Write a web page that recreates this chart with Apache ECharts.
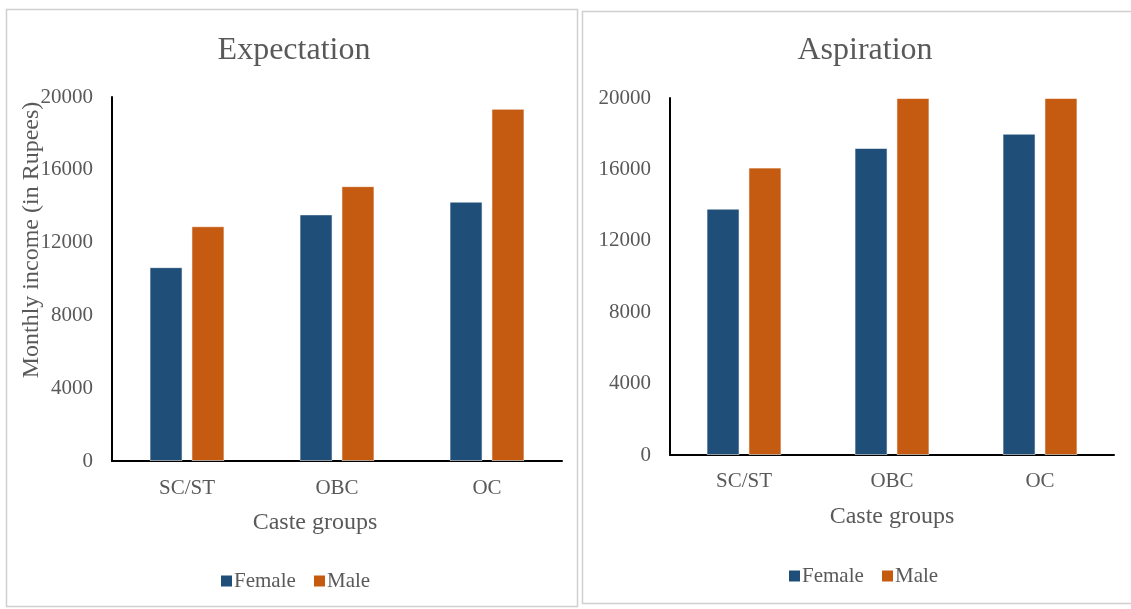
<!DOCTYPE html>
<html>
<head>
<meta charset="utf-8">
<script src="https://cdn.jsdelivr.net/npm/echarts@6/dist/echarts.min.js"></script>
<style>
html,body{margin:0;padding:0;background:#fff;}
#chart{width:1131px;height:609px;}
</style>
</head>
<body>
<div id="chart"></div>
<script>
// ---- data ----
const categories = ['SC/ST', 'OBC', 'OC'];
const expectationFemale = [10650, 13550, 14250];
const expectationMale = [12900, 15100, 19350];
const aspirationFemale = [13800, 17200, 18000];
const aspirationMale = [16100, 20000, 20000];
const yMin = 0, yMax = 20000, yInterval = 4000;
const panelTitles = ['Expectation', 'Aspiration'];
const seriesNames = ['Female', 'Male'];
const yAxisName = 'Monthly income (in Rupees)';
const xAxisName = 'Caste groups';

// ---- styles ----
const FONT = '"Liberation Serif", "Times New Roman", serif';
const GRAY = '#595959';
const FEMALE = '#1F4E79';
const MALE = '#C55A11';
const seriesColors = [FEMALE, MALE];

const chart = echarts.init(document.getElementById('chart'), null, {renderer: 'canvas'});

function xAxisCfg(gridIndex, margin) {
  return {
    type: 'category', gridIndex, data: categories,
    axisLine: {show: true, lineStyle: {color: '#000', width: 2}},
    axisTick: {show: false},
    axisLabel: {color: GRAY, fontFamily: FONT, fontSize: 21, margin}
  };
}
function yAxisCfg(gridIndex) {
  return {
    type: 'value', gridIndex, min: yMin, max: yMax, interval: yInterval,
    axisLine: {show: true, lineStyle: {color: '#000', width: 2}},
    axisTick: {show: false},
    splitLine: {show: false},
    axisLabel: {color: GRAY, fontFamily: FONT, fontSize: 21, margin: 19,
                formatter: v => String(v)}
  };
}
function barSeries(name, color, data, idx) {
  return {
    type: 'bar', name, data, xAxisIndex: idx, yAxisIndex: idx,
    barWidth: 33, barGap: '27%',
    itemStyle: {color, borderColor: 'rgba(255,255,255,0.55)', borderWidth: 1},
    emphasis: {disabled: true}
  };
}
// legend drawn as graphic group (serif font)
function legendGroup(left, cy, maleOffset) {
  const children = [];
  const offsets = [0, maleOffset];
  seriesNames.forEach((name, i) => {
    const x0 = left + offsets[i];
    children.push({type: 'rect', shape: {x: x0, y: cy - 5.5, width: 11, height: 11},
                   style: {fill: seriesColors[i]}});
    children.push({type: 'text', x: x0 + 13, y: cy,
                   style: {text: name, fill: GRAY, font: '21px ' + FONT,
                           textAlign: 'left', textVerticalAlign: 'middle'}});
  });
  return {type: 'group', silent: true, children};
}

const option = {
  animation: false,
  backgroundColor: '#fff',
  textStyle: {fontFamily: FONT},
  title: [
    {text: panelTitles[0], left: 289, top: 30, textAlign: 'center',
     textStyle: {color: GRAY, fontFamily: FONT, fontSize: 32, fontWeight: 'normal'}},
    {text: panelTitles[1], left: 860, top: 30, textAlign: 'center',
     textStyle: {color: GRAY, fontFamily: FONT, fontSize: 32, fontWeight: 'normal'}}
  ],
  grid: [
    {left: 112, top: 97, width: 450, height: 364},
    {left: 670, top: 98, width: 444, height: 357}
  ],
  xAxis: [xAxisCfg(0, 17), xAxisCfg(1, 16)],
  yAxis: [yAxisCfg(0), yAxisCfg(1)],
  series: [
    barSeries(seriesNames[0], FEMALE, expectationFemale, 0),
    barSeries(seriesNames[1], MALE, expectationMale, 0),
    barSeries(seriesNames[0], FEMALE, aspirationFemale, 1),
    barSeries(seriesNames[1], MALE, aspirationMale, 1)
  ],
  graphic: [
    {type: 'rect', shape: {x: 6.5, y: 9.5, width: 571, height: 597}, silent: true, z: -1,
     style: {fill: 'none', stroke: '#d0d0d0', lineWidth: 1.5}},
    {type: 'rect', shape: {x: 582.5, y: 11.5, width: 565, height: 592}, silent: true, z: -1,
     style: {fill: 'none', stroke: '#d0d0d0', lineWidth: 1.5}},
    {type: 'text', x: 32, y: 240, rotation: Math.PI / 2, silent: true,
     style: {text: yAxisName, fill: GRAY, font: '24px ' + FONT, textAlign: 'center', textVerticalAlign: 'middle'}},
    {type: 'text', x: 315, y: 523, silent: true,
     style: {text: xAxisName, fill: GRAY, font: '24px ' + FONT, textAlign: 'center', textVerticalAlign: 'middle'}},
    {type: 'text', x: 892, y: 517, silent: true,
     style: {text: xAxisName, fill: GRAY, font: '24px ' + FONT, textAlign: 'center', textVerticalAlign: 'middle'}},
    legendGroup(221, 581, 93),
    legendGroup(789, 576, 93)
  ]
};
chart.setOption(option);
</script>
</body>
</html>
